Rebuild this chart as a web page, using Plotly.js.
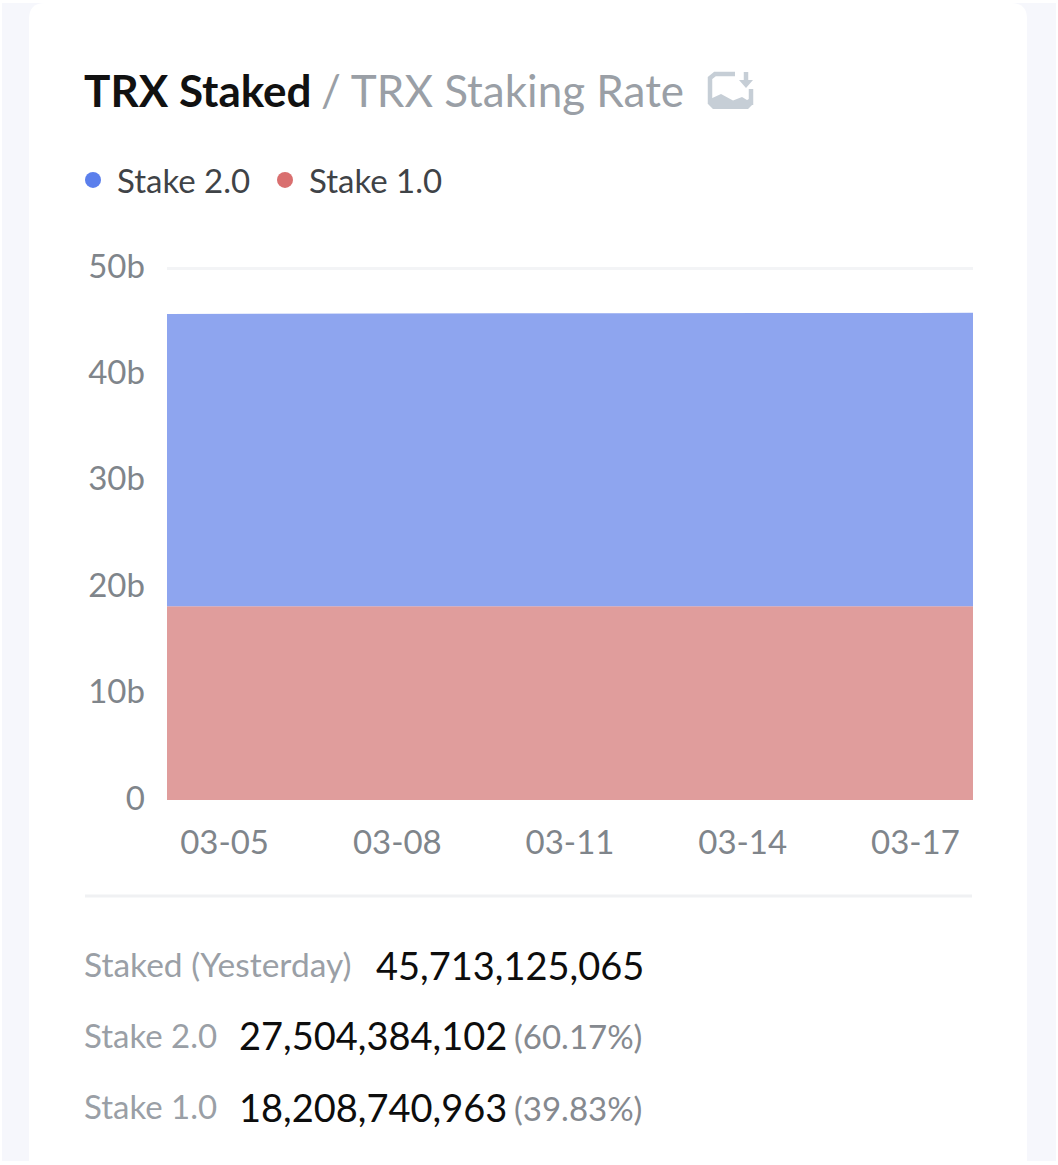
<!DOCTYPE html>
<html><head><meta charset="utf-8">
<script src="https://cdn.plot.ly/plotly-3.0.1.min.js"></script>
<style>html,body{margin:0;padding:0;background:#fff}#c{width:1058px;height:1165px}</style>
</head><body><div id="c"></div>
<script>
const dates=["2025-03-04","2025-03-05","2025-03-06","2025-03-07","2025-03-08","2025-03-09","2025-03-10","2025-03-11","2025-03-12","2025-03-13","2025-03-14","2025-03-15","2025-03-16","2025-03-17","2025-03-18"];
const stake1=[18.21,18.21,18.21,18.21,18.21,18.21,18.21,18.21,18.21,18.21,18.21,18.21,18.21,18.21,18.21];
const stake2=[27.47,27.49,27.50,27.51,27.52,27.53,27.54,27.55,27.55,27.54,27.55,27.55,27.56,27.57,27.59];
const tickDates=["2025-03-05","2025-03-08","2025-03-11","2025-03-14","2025-03-17"];
const tickLabels=["03-05","03-08","03-11","03-14","03-17"];
const yTicks=[0,10,20,30,40,50];
const yLabels=["0","10b","20b","30b","40b","50b"];
const seriesNames=["Stake 2.0","Stake 1.0"];
const seriesColors=["#5b7fec","#d96f6f"];
const fillColors=["#8ea5ef","#e09d9c"];
const F="Lato, sans-serif";
const W=1058,H=1165;
const L=167,R=973,T=266,B=800;
const yTop=50.19;
const px=v=>(v-L)/(R-L), py=v=>(B-v)/(B-T);
function t(text,x,y,size,color){return {text,x:px(x),y:py(y),xref:"paper",yref:"paper",xanchor:"left",yanchor:"middle",showarrow:false,font:{family:F,size,color}};}
const pts=a=>a.map((p,i)=>(i?"L":"M")+px(p[0])+","+py(p[1])).join("");
const ppt=(x,y)=>px(x)+","+py(y);
function card(x0,y0,x1,y1,r){return "M"+ppt(x0+r,y0)+"L"+ppt(x1-r,y0)+"Q"+ppt(x1,y0)+" "+ppt(x1,y0+r)+"L"+ppt(x1,y1)+"L"+ppt(x0,y1)+"L"+ppt(x0,y0+r)+"Q"+ppt(x0,y0)+" "+ppt(x0+r,y0)+"Z";}
const traces=[
 {x:dates,y:stake1,name:seriesNames[1],type:"scatter",mode:"lines",stackgroup:"a",line:{width:0},fillcolor:fillColors[1],showlegend:false,hoverinfo:"skip"},
 {x:dates,y:stake2,name:seriesNames[0],type:"scatter",mode:"lines",stackgroup:"a",line:{width:0},fillcolor:fillColors[0],showlegend:false,hoverinfo:"skip"},
 {x:[null],y:[null],name:seriesNames[0],type:"scatter",mode:"markers",marker:{color:seriesColors[0],size:16,symbol:"circle"}},
 {x:[null],y:[null],name:seriesNames[1],type:"scatter",mode:"markers",marker:{color:seriesColors[1],size:16,symbol:"circle"}}
];
const ic="#c6ced6";
const paper={xref:"paper",yref:"paper"};
const layout={
 width:W,height:H,autosize:false,
 margin:{l:L,r:W-R,t:T,b:H-B,pad:0},
 paper_bgcolor:"#ffffff",plot_bgcolor:"rgba(0,0,0,0)",
 showlegend:true,
 legend:{orientation:"h",traceorder:"normal",x:px(69),y:py(152),xanchor:"left",yanchor:"top",font:{family:F,size:33,color:"#3f4347"},itemwidth:38,entrywidth:139,entrywidthmode:"pixels",bgcolor:"rgba(0,0,0,0)"},
 xaxis:{type:"date",range:[dates[0],dates[dates.length-1]],tickmode:"array",tickvals:tickDates,ticktext:tickLabels,showgrid:false,zeroline:false,showline:false,ticks:"",tickfont:{family:F,size:33,color:"#7f858b"},ticklabelstandoff:20},
 yaxis:{range:[0,yTop],tickmode:"array",tickvals:yTicks,ticktext:yLabels,showgrid:true,gridcolor:"#f3f4f6",gridwidth:3,zeroline:false,showline:false,ticks:"",tickfont:{family:F,size:33,color:"#7f858b"},ticklabelstandoff:21,ticklabelshift:-2},
 shapes:[
  {...paper,type:"rect",x0:px(2),x1:px(1056),y0:py(3),y1:py(1161),fillcolor:"#f6f7fc",line:{width:0},layer:"below"},
  {...paper,type:"path",path:card(29,3,1027,1165,16),fillcolor:"#ffffff",line:{width:0},layer:"below"},
  {...paper,type:"line",x0:px(85),x1:px(972),y0:py(896),y1:py(896),line:{color:"#f0f1f3",width:3},layer:"below"},
  {...paper,type:"path",layer:"above",fillcolor:ic,line:{width:0},
   path:pts([[708,100],[721,94],[733,100.5],[742,97],[747,100],[753,97],[753,104],[748,109],[713,109],[708,104]])+"Z"},
  {...paper,type:"path",layer:"above",line:{color:ic,width:4.5},path:pts([[735,74],[715,74],[710,78],[710,104]])},
  {...paper,type:"line",layer:"above",x0:px(751),x1:px(751),y0:py(89),y1:py(105),line:{color:ic,width:4.5}},
  {...paper,type:"line",layer:"above",x0:px(746),x1:px(746),y0:py(72),y1:py(83),line:{color:ic,width:4.5}},
  {...paper,type:"path",layer:"above",fillcolor:ic,line:{width:0},path:pts([[739,80],[753,80],[746,88]])+"Z"}
 ],
 annotations:[
  t("<b>TRX Staked</b>",82,90,44,"#111111"),
  t("/ TRX Staking Rate",319,90,44,"#9a9fa6"),
  t("Staked (Yesterday)",82,964,33.5,"#9a9fa6"),
  t("45,713,125,065",374,965,38,"#0d0d0d"),
  t("Stake 2.0",82,1035,33,"#9a9fa6"),
  t("27,504,384,102",237,1035,38,"#0d0d0d"),
  t("(60.17%)",512,1036,33,"#85898f"),
  t("Stake 1.0",82,1106,33,"#9a9fa6"),
  t("18,208,740,963",237,1107,38,"#0d0d0d"),
  t("(39.83%)",512,1108,33,"#85898f")
 ]
};
Plotly.newPlot("c",traces,layout,{displayModeBar:false,staticPlot:true});
</script></body></html>
